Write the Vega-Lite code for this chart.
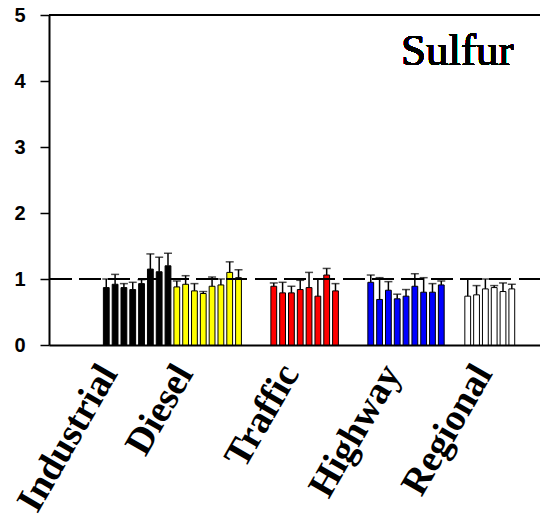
{
  "$schema": "https://vega.github.io/schema/vega-lite/v6.json",
  "autosize": "none",
  "width": 491,
  "height": 330,
  "padding": {"left": 49, "top": 15, "right": 0, "bottom": 172},
  "background": "white",
  "config": {"view": {"stroke": null}},
  "data": {"values": [
    {"group": "Industrial", "slot": 0, "value": 0.87, "upper": 1.0},
    {"group": "Industrial", "slot": 1, "value": 0.92, "upper": 1.07},
    {"group": "Industrial", "slot": 2, "value": 0.87, "upper": 0.93},
    {"group": "Industrial", "slot": 3, "value": 0.84, "upper": 0.95},
    {"group": "Industrial", "slot": 4, "value": 0.93, "upper": 0.99},
    {"group": "Industrial", "slot": 5, "value": 1.15, "upper": 1.38},
    {"group": "Industrial", "slot": 6, "value": 1.11, "upper": 1.33},
    {"group": "Industrial", "slot": 7, "value": 1.2, "upper": 1.39},
    {"group": "Diesel", "slot": 8, "value": 0.88, "upper": 0.97},
    {"group": "Diesel", "slot": 9, "value": 0.92, "upper": 1.05},
    {"group": "Diesel", "slot": 10, "value": 0.82, "upper": 0.93},
    {"group": "Diesel", "slot": 11, "value": 0.78, "upper": 0.81},
    {"group": "Diesel", "slot": 12, "value": 0.89, "upper": 1.03},
    {"group": "Diesel", "slot": 13, "value": 0.91, "upper": 1.0},
    {"group": "Diesel", "slot": 14, "value": 1.1, "upper": 1.26},
    {"group": "Diesel", "slot": 15, "value": 1.02, "upper": 1.14},
    {"group": "Traffic", "slot": 19, "value": 0.89, "upper": 0.94},
    {"group": "Traffic", "slot": 20, "value": 0.79, "upper": 0.95},
    {"group": "Traffic", "slot": 21, "value": 0.79, "upper": 0.89},
    {"group": "Traffic", "slot": 22, "value": 0.84, "upper": 0.98},
    {"group": "Traffic", "slot": 23, "value": 0.87, "upper": 1.1},
    {"group": "Traffic", "slot": 24, "value": 0.74, "upper": 1.0},
    {"group": "Traffic", "slot": 25, "value": 1.06, "upper": 1.16},
    {"group": "Traffic", "slot": 26, "value": 0.82, "upper": 0.93},
    {"group": "Highway", "slot": 30, "value": 0.95, "upper": 1.06},
    {"group": "Highway", "slot": 31, "value": 0.69, "upper": 1.02},
    {"group": "Highway", "slot": 32, "value": 0.83, "upper": 0.96},
    {"group": "Highway", "slot": 33, "value": 0.7, "upper": 0.77},
    {"group": "Highway", "slot": 34, "value": 0.74, "upper": 0.84},
    {"group": "Highway", "slot": 35, "value": 0.89, "upper": 1.08},
    {"group": "Highway", "slot": 36, "value": 0.8, "upper": 1.02},
    {"group": "Highway", "slot": 37, "value": 0.8, "upper": 0.93},
    {"group": "Highway", "slot": 38, "value": 0.91, "upper": 0.97},
    {"group": "Regional", "slot": 41, "value": 0.74, "upper": 1.0},
    {"group": "Regional", "slot": 42, "value": 0.76, "upper": 0.9},
    {"group": "Regional", "slot": 43, "value": 0.85, "upper": 1.0},
    {"group": "Regional", "slot": 44, "value": 0.87, "upper": 0.9},
    {"group": "Regional", "slot": 45, "value": 0.81, "upper": 0.94},
    {"group": "Regional", "slot": 46, "value": 0.85, "upper": 0.92}
  ]},
  "encoding": {
    "x": {
      "field": "slot", "type": "quantitative",
      "scale": {"domain": [-5.93, 48.63], "nice": false, "zero": false},
      "axis": {
        "title": null, "grid": false, "ticks": false, "tickSize": 0,
        "domainColor": "black", "domainWidth": 2,
        "values": [-1.6, 6.95, 18.97, 30.5, 40.9],
        "labelExpr": "datum.value < 2 ? 'Industrial' : datum.value < 12 ? 'Diesel' : datum.value < 25 ? 'Traffic' : datum.value < 35 ? 'Highway' : 'Regional'",
        "labelAngle": -60, "labelAlign": "right", "labelBaseline": "top",
        "labelPadding": 13, "labelFont": "Liberation Serif", "labelFontWeight": "bold",
        "labelFontSize": 38, "labelColor": "black",
        "labelOverlap": false, "labelBound": false, "labelFlush": false
      }
    }
  },
  "layer": [
    {
      "mark": {"type": "bar", "size": 5.8, "stroke": "black", "strokeWidth": 1},
      "encoding": {
        "y": {
          "field": "value", "type": "quantitative",
          "scale": {"domain": [0, 5], "nice": false},
          "axis": {
            "title": null, "grid": false, "values": [0, 1, 2, 3, 4, 5], "format": "d",
            "tickSize": 9, "tickWidth": 1.5, "tickColor": "black",
            "domainColor": "black", "domainWidth": 2,
            "labelFont": "Liberation Sans", "labelFontWeight": "bold", "labelFontSize": 20,
            "labelColor": "black", "labelPadding": 15, "labelFlush": false, "labelBound": false
          }
        },
        "fill": {
          "field": "group", "type": "nominal",
          "scale": {"domain": ["Industrial", "Diesel", "Traffic", "Highway", "Regional"],
                    "range": ["#000000", "#ffff00", "#ff0000", "#0000ff", "#ffffff"]},
          "legend": null
        }
      }
    },
    {
      "mark": {"type": "rule", "color": "black", "strokeWidth": 1.5},
      "encoding": {
        "y": {"field": "value", "type": "quantitative"},
        "y2": {"field": "upper"}
      }
    },
    {
      "mark": {"type": "tick", "orient": "horizontal", "color": "black", "size": 8, "thickness": 1.5},
      "encoding": {
        "y": {"field": "upper", "type": "quantitative"}
      }
    },
    {
      "mark": {"type": "rule", "color": "black", "strokeWidth": 2.2, "strokeDash": [21, 8.3]},
      "encoding": {"x": null, "y": {"datum": 1, "type": "quantitative"}}
    },
    {
      "mark": {"type": "rule", "color": "black", "strokeWidth": 2},
      "encoding": {"x": null, "y": {"datum": 5, "type": "quantitative"}}
    },
    {
      "mark": {"type": "text", "text": "Sulfur", "font": "Liberation Serif", "fontSize": 45,
               "fontWeight": "normal", "align": "right", "baseline": "alphabetic", "fill": "black"},
      "encoding": {
        "x": {"datum": 46.2, "type": "quantitative"},
        "y": {"datum": 4.24, "type": "quantitative"}
      }
    }
  ]
}
